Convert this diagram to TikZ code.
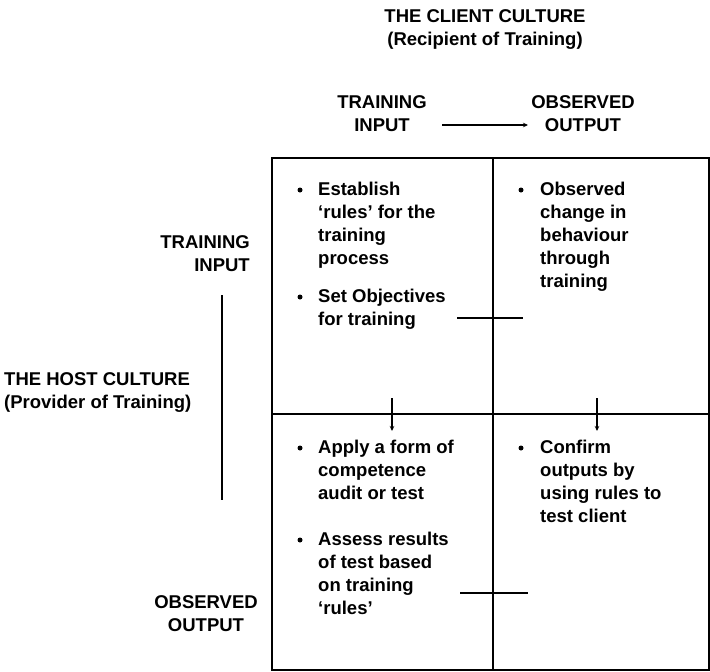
\documentclass[tikz,border=0pt]{standalone}
\usepackage{fontspec}
\setmainfont{Liberation Sans}[Ligatures=TeX]
\usetikzlibrary{arrows.meta}
\begin{document}
\begin{tikzpicture}[x=1pt,y=-1pt,
  lbl/.style={font=\fontsize{18.5}{23}\selectfont\bfseries, inner sep=0pt},
  item/.style={lbl, align=left, anchor=north west},
  dot/.style={circle, fill=black, inner sep=0pt, minimum size=5pt},
  frame/.style={line width=2.6pt},
  tick/.style={line width=2pt},
  tip/.style={line width=1.8pt, -{Stealth[length=5pt,width=4.5pt]}}]
\useasboundingbox (0,0) rectangle (710,672);

% column headings
\node[lbl, align=center] (client) at (485,30) {THE CLIENT CULTURE\\(Recipient of Training)};
\node[lbl, align=center] (cin) at (382,114) {TRAINING\\INPUT};
\node[lbl, align=center] (cout) at (583,114) {OBSERVED\\OUTPUT};
\draw[tip] (442,125) -- (528,125);

% row headings
\node[lbl, align=right, anchor=east] (rin) at (250,254) {TRAINING\\INPUT};
\node[lbl, align=center] (rout) at (206,614) {OBSERVED\\OUTPUT};
\node[lbl, align=left, anchor=west] (host) at (4,392) {THE HOST CULTURE\\(Provider of Training)};
\coordinate (vtop) at (222,295);
\coordinate (vbot) at (222,500);
\draw[tick] (vtop) -- (vbot);

% the grid
\coordinate (nw) at (272,158);
\coordinate (se) at (709,670);
\draw[frame] (nw) rectangle (se);
\draw[frame] (493,158) -- (493,670);
\draw[frame] (272,414) -- (709,414);

% links across the grid
\draw[tick] (457,318) -- (523,318);
\draw[tick] (460,593) -- (528,593);
\draw[tip] (392,398) -- (392,431);
\draw[tip] (597,398) -- (597,431);

% top left cell
\node[dot] (d1) at (300,190) {};
\node[item] (t1) at (318,182) {Establish\\`rules' for the\\training\\process};
\node[dot] (d2) at (300,297) {};
\node[item] (t2) at (318,289) {Set Objectives\\for training};

% top right cell
\node[dot] (d3) at (521,190) {};
\node[item] (t3) at (540,182) {Observed\\change in\\behaviour\\through\\training};

% bottom left cell
\node[dot] (d4) at (300,448) {};
\node[item] (t4) at (318,440) {Apply a form of\\competence\\audit or test};
\node[dot] (d5) at (300,540) {};
\node[item] (t5) at (318,532) {Assess results\\of test based\\on training\\`rules'};

% bottom right cell
\node[dot] (d6) at (521,448) {};
\node[item] (t6) at (540,440) {Confirm\\outputs by\\using rules to\\test client};
\end{tikzpicture}
\end{document}
